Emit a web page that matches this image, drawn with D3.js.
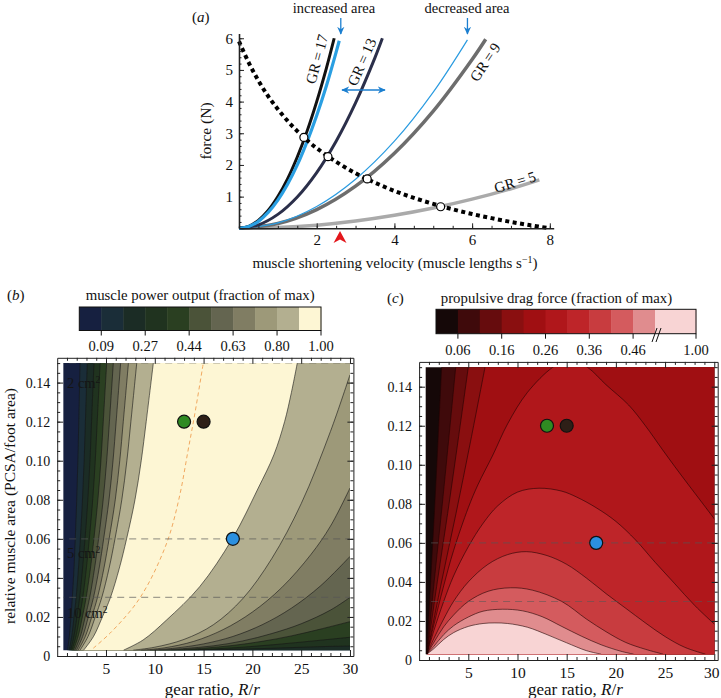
<!DOCTYPE html>
<html>
<head>
<meta charset="utf-8">
<script src="https://d3js.org/d3.v7.min.js"></script>
<style>
  body { margin: 0; background: #fff; }
  svg text { font-family: "Liberation Serif", "Times New Roman", serif; fill: #111; }
</style>
</head>
<body>
<script>
// ---------- panel (a): force-velocity and gear curves ----------
var hillV = [0,0.25,0.5,0.75,1,1.25,1.5,1.75,2,2.5,3,3.5,4,4.5,5,5.5,6,6.5,7,7.5,8];
var hillF = [5.9,5.23,4.66,4.17,3.76,3.39,3.07,2.78,2.53,2.10,1.74,1.44,1.18,0.96,0.77,0.60,0.45,0.32,0.20,0.097,0];
var gr17 = [[0,0],[0.25,0.06],[0.5,0.25],[0.75,0.56],[1,1],[1.25,1.56],[1.5,2.25],[1.75,3.06],[2,4],[2.25,5.06],[2.45,6.0]];
var blueHigh = [[0,0],[0.25,0.056],[0.5,0.22],[0.75,0.5],[1,0.89],[1.25,1.39],[1.5,2.0],[1.75,2.73],[2,3.56],[2.25,4.5],[2.5,5.56],[2.58,5.92]];
var gr13 = [[0,0],[0.5,0.11],[1,0.44],[1.5,0.99],[2,1.76],[2.5,2.75],[3,3.96],[3.5,5.39],[3.69,6.0]];
var blueLow = [[0,0],[1,0.17],[2,0.69],[3,1.55],[4,2.75],[5,4.3],[5.88,5.95]];
var gr9 = [[0,0],[1,0.15],[2,0.59],[3,1.33],[4,2.37],[5,3.7],[6,5.33],[6.35,5.97]];
var gr5 = [[0,0],[1,0.026],[2,0.10],[3,0.23],[4,0.41],[5,0.64],[6,0.92],[7,1.25],[7.73,1.53]];
var crossV = [1.67, 2.29, 3.30, 5.19];
var crossF = [2.87, 2.26, 1.56, 0.68];
var markV = 2.6;

// ---------- panel (b): muscle power contours ----------
var bColors = ["#162040","#1a2d38","#1b2c25","#20331f","#2a3f21","#4b5339","#646550","#807d63","#9d9979","#b3af90","#fdf6d4"];
var bTicks = ["0.09","0.27","0.44","0.63","0.80","1.00"];
var bLeftY = [0.003,0.01,0.02,0.03,0.045,0.06,0.08,0.10,0.12,0.15];
var bLeftX = [
  [1.06,1.24,1.41,1.55,1.72,1.85,2.00,2.12,2.21,2.34],
  [1.22,1.49,1.72,1.94,2.18,2.37,2.59,2.76,2.89,3.08],
  [1.38,1.71,2.02,2.30,2.60,2.85,3.14,3.36,3.52,3.77],
  [1.51,1.92,2.29,2.62,2.99,3.29,3.64,3.90,4.10,4.40],
  [1.66,2.14,2.58,2.97,3.41,3.76,4.17,4.48,4.72,5.07],
  [1.81,2.37,2.87,3.33,3.83,4.24,4.71,5.07,5.35,5.75],
  [1.98,2.61,3.19,3.72,4.30,4.76,5.31,5.72,6.04,6.50],
  [2.15,2.88,3.54,4.13,4.79,5.32,5.95,6.41,6.77,7.30],
  [2.34,3.16,3.90,4.57,5.32,5.92,6.62,7.14,7.55,8.15],
  [2.71,3.72,4.63,5.46,6.37,7.11,7.97,8.61,9.12,9.85]
];
var bRight = [
  null,
  null,
  [[14.5,0.003],[18,0.0034],[21,0.0038],[24,0.0043],[27,0.0048],[30,0.0051]],
  [[13,0.003],[16,0.0036],[19,0.0045],[22,0.0057],[25,0.0071],[28,0.0086],[30,0.0096]],
  [[11.7,0.003],[15,0.0040],[18,0.0054],[21,0.0075],[24,0.0103],[27,0.0138],[30,0.0176]],
  [[10.5,0.003],[13,0.0038],[16,0.0052],[19,0.0077],[22,0.0115],[25,0.0165],[28,0.0235],[30,0.030]],
  [[9.5,0.003],[12,0.0040],[15,0.0062],[18,0.0100],[21,0.0160],[24,0.0245],[27,0.036],[30,0.051]],
  [[8.6,0.003],[11,0.0042],[14,0.0075],[17,0.0135],[20,0.0225],[23,0.0350],[26,0.052],[28,0.0665],[30,0.086]],
  [[7.8,0.003],[10,0.0045],[13,0.0085],[16,0.0160],[19,0.0293],[22,0.050],[25,0.078],[28,0.115],[30,0.144]],
  [[6.8,0.003],[8.8,0.0082],[11.2,0.0184],[14.6,0.0355],[17.94,0.06],[20.6,0.086],[22.2,0.103],[23.3,0.12],[24.0,0.135],[24.6,0.15]]
];
var bOptimum = [[3.7,0.004],[5.4,0.0116],[7.8,0.025],[9.17,0.0355],[10.5,0.049],[11.56,0.0628],[12.6,0.0833],[13.4,0.105],[14.1,0.124],[14.97,0.15]];

// ---------- panel (c): propulsive drag contours ----------
var cColors = ["#150808","#3f0a0b","#660c0d","#8a0f10","#a00f12","#b0171b","#be2529","#c83c3f","#d45b5e","#e08c8e","#f8d4d4"];
var cTicks = ["0.06","0.16","0.26","0.36","0.46","1.00"];
var cFanY = [0.003,0.04,0.075,0.112,0.15];
var cFanX = [
  [0.8,1.17,1.55,1.92,2.29],
  [0.8,1.53,2.26,2.99,3.72],
  [0.8,1.85,2.90,3.95,5.00],
  [0.8,2.28,3.75,5.23,6.70]
];
var cArches = [
  [[0.8,0.003],[1.5,0.018],[2.5,0.038],[3.5,0.056],[5,0.078],[6,0.090],[7.5,0.105],[9,0.121],[11,0.137],[13.6,0.150],[15.3,0.154],[17.1,0.150],[19,0.141],[21.3,0.1306],[23,0.120],[24.7,0.108],[26,0.099],[27.4,0.0896],[28.7,0.081],[30.2,0.071]],
  [[0.8,0.003],[1.5,0.015],[2.5,0.030],[3.5,0.043],[5,0.058],[6.5,0.070],[8,0.079],[10,0.086],[12.2,0.088],[14.5,0.0865],[16,0.0835],[18,0.078],[20,0.071],[22,0.0615],[24,0.050],[26,0.039],[28,0.028],[30.2,0.0175]],
  [[0.8,0.003],[1.5,0.011],[2.5,0.021],[3.5,0.030],[5,0.040],[7,0.049],[9,0.054],[10.9,0.0555],[13,0.0535],[15,0.049],[17,0.042],[19,0.034],[21,0.0265],[23,0.019],[25,0.012],[27,0.0065],[29.1,0.003]],
  [[0.8,0.003],[1.5,0.009],[2.5,0.017],[3.5,0.023],[5,0.030],[7,0.0352],[9.3,0.037],[11.5,0.0358],[14.5,0.030],[17,0.021],[19,0.0145],[21,0.009],[23,0.0055],[24.8,0.003]],
  [[0.8,0.003],[1.5,0.007],[2.5,0.013],[3.5,0.0175],[5,0.022],[6.5,0.025],[8.5,0.026],[10.5,0.0252],[12.5,0.0222],[14.5,0.0172],[16.5,0.0122],[18.5,0.0078],[20.5,0.0045],[21.8,0.003]],
  [[0.8,0.003],[1.5,0.0058],[2.5,0.0105],[3.5,0.014],[5,0.0172],[6.5,0.0187],[7.7,0.019],[9,0.0187],[11,0.0168],[13,0.013],[15,0.0088],[17,0.0048],[18.5,0.003]]
];

// species markers (gear ratio, relative area) shared by b and c
var dotGear = [13, 15, 18];
var dotArea = [0.12, 0.12, 0.06];
var dotColor = ["#2f8a22", "#2e1f17", "#2b90e0"];
var areaLines = [0.06, 0.03];
var areaLabels = ["2", "5", "10"];

var xMajor = [5,10,15,20,25,30];
var yMajor = [0,0.02,0.04,0.06,0.08,0.10,0.12,0.14];

var svg = d3.select("body").append("svg").attr("width", 721).attr("height", 698);
var defs = svg.append("defs");

defs.append("marker").attr("id", "arr")
  .attr("viewBox", "0 0 10 10").attr("refX", 9).attr("refY", 5)
  .attr("markerWidth", 8).attr("markerHeight", 8).attr("markerUnits", "userSpaceOnUse")
  .attr("orient", "auto-start-reverse")
  .append("path").attr("d", "M0,0.5 L10,5 L0,9.5 L3,5 Z").attr("fill", "#1b7fd0");

function styleAxis(g, size) {
  g.attr("font-family", "Liberation Serif, Times New Roman, serif").attr("font-size", size).attr("color", "#222");
  g.selectAll("text").style("fill", "#111");
}

// ================= panel (a) =================
(function () {
  var xa = d3.scaleLinear().domain([0, 8.1]).range([239, 553.7]);
  var ya = d3.scaleLinear().domain([0, 6.15]).range([228.3, 33.5]);
  var g = svg.append("g");
  var line = d3.line().x(function (d) { return xa(d[0]); }).y(function (d) { return ya(d[1]); })
    .curve(d3.curveCatmullRom.alpha(0.5));

  var curves = [
    { d: gr5, c: "#aaaaaa", w: 3.5 },
    { d: gr9, c: "#6d6d6d", w: 3.5 },
    { d: blueLow, c: "#2a9be0", w: 1.2 },
    { d: gr13, c: "#2b2f4a", w: 3 },
    { d: gr17, c: "#111111", w: 3 },
    { d: blueHigh, c: "#2a9fe2", w: 3.2 }
  ];
  curves.forEach(function (c) {
    g.append("path").attr("d", line(c.d)).attr("fill", "none")
      .attr("stroke", c.c).attr("stroke-width", c.w).attr("stroke-linecap", "butt");
  });

  var hill = hillV.map(function (v, i) { return [v, hillF[i]]; });
  g.append("path").attr("d", line(hill)).attr("fill", "none")
    .attr("stroke", "#000").attr("stroke-width", 4).attr("stroke-dasharray", "4,3.5");

  g.selectAll("circle.cross").data(crossV).enter().append("circle")
    .attr("cx", function (d) { return xa(d); })
    .attr("cy", function (d, i) { return ya(crossF[i]); })
    .attr("r", 4).attr("fill", "#fff").attr("stroke", "#000").attr("stroke-width", 1.2);

  // axes, ticks pointing inward
  var xAx = g.append("g").attr("transform", "translate(0," + ya(0) + ")")
    .call(d3.axisBottom(xa).tickValues([2,4,6,8]).tickSizeInner(-5).tickSizeOuter(0).tickPadding(6).tickFormat(d3.format("d")));
  styleAxis(xAx, 15);
  xAx.select(".domain").attr("stroke-width", 1.6);
  var xMin = g.append("g").attr("transform", "translate(0," + ya(0) + ")")
    .call(d3.axisBottom(xa).tickValues(d3.range(0.5, 8.1, 0.5)).tickSizeInner(-2.5).tickSizeOuter(0).tickFormat(""));
  xMin.select(".domain").remove(); styleAxis(xMin, 10);

  var yAx = g.append("g").attr("transform", "translate(" + xa(0) + ",0)")
    .call(d3.axisLeft(ya).tickValues([1,2,3,4,5,6]).tickSizeInner(-5).tickSizeOuter(0).tickPadding(6).tickFormat(d3.format("d")));
  styleAxis(yAx, 15);
  yAx.select(".domain").attr("stroke-width", 1.6);
  var yMin = g.append("g").attr("transform", "translate(" + xa(0) + ",0)")
    .call(d3.axisLeft(ya).tickValues(d3.range(0.2, 6.15, 0.2)).tickSizeInner(-2.5).tickSizeOuter(0).tickFormat(""));
  yMin.select(".domain").remove(); styleAxis(yMin, 10);

  // red marker under the axis
  var mx = xa(markV);
  g.append("path").attr("d", "M" + mx + ",231 L" + (mx + 6.5) + ",243 L" + mx + ",239.5 L" + (mx - 6.5) + ",243 Z")
    .attr("fill", "#e3161b");

  // curve labels
  var labs = [
    { t: "GR\u2009=\u200917", x: 316.7, y: 59, r: -75 },
    { t: "GR\u2009=\u200913", x: 361.7, y: 62, r: -66 },
    { t: "GR\u2009=\u20099", x: 485, y: 62, r: -56 },
    { t: "GR\u2009=\u20095", x: 515, y: 182, r: -17 }
  ];
  labs.forEach(function (l) {
    g.append("text").attr("transform", "translate(" + l.x + "," + l.y + ") rotate(" + l.r + ")")
      .attr("text-anchor", "middle").attr("dy", "0.35em").attr("font-size", 15).text(l.t);
  });

  g.append("text").attr("x", 334).attr("y", 13).attr("text-anchor", "middle").attr("font-size", 14.5).text("increased area");
  g.append("text").attr("x", 467).attr("y", 13).attr("text-anchor", "middle").attr("font-size", 14.5).text("decreased area");
  [xa(2.62), xa(5.88)].forEach(function (x) {
    g.append("line").attr("x1", x).attr("x2", x).attr("y1", 18).attr("y2", 34)
      .attr("stroke", "#1b7fd0").attr("stroke-width", 1.3).attr("marker-end", "url(#arr)");
  });
  g.append("line").attr("x1", 342).attr("x2", 385).attr("y1", 90).attr("y2", 90)
    .attr("stroke", "#1b7fd0").attr("stroke-width", 1.3)
    .attr("marker-start", "url(#arr)").attr("marker-end", "url(#arr)");

  var pa = g.append("text").attr("x", 192).attr("y", 22).attr("font-size", 15);
  pa.append("tspan").text("(");
  pa.append("tspan").attr("font-style", "italic").text("a");
  pa.append("tspan").text(")");

  g.append("text").attr("transform", "translate(211,131) rotate(-90)").attr("text-anchor", "middle")
    .attr("font-size", 15.5).text("force (N)");
  var xt = g.append("text").attr("x", 395).attr("y", 268).attr("text-anchor", "middle").attr("font-size", 15);
  xt.append("tspan").text("muscle shortening velocity (muscle lengths s");
  xt.append("tspan").attr("baseline-shift", "super").attr("font-size", 10).text("\u22121");
  xt.append("tspan").text(")");
})();

// ================= panels (b) and (c) =================
function drawPanel(cfg) {
  var g = svg.append("g");
  var xs = d3.scaleLinear().domain([0, 30.35]).range(cfg.xr);
  var ys = d3.scaleLinear().domain([0, 0.1527]).range(cfg.yr);
  var line = d3.line().x(function (d) { return xs(d[0]); }).y(function (d) { return ys(d[1]); })
    .curve(d3.curveCatmullRom.alpha(0.5));
  function pt(x, y) { return "L" + xs(x) + "," + ys(y); }

  var clipId = "clip" + cfg.id;
  defs.append("clipPath").attr("id", clipId).append("rect")
    .attr("x", xs(cfg.dataX[0])).attr("y", ys(0.15))
    .attr("width", xs(cfg.dataX[1]) - xs(cfg.dataX[0])).attr("height", ys(0.003) - ys(0.15));
  var plot = g.append("g").attr("clip-path", "url(#" + clipId + ")");

  plot.append("rect").attr("x", xs(0)).attr("y", ys(0.16)).attr("width", xs(31) - xs(0))
    .attr("height", ys(-0.01) - ys(0.16)).attr("fill", cfg.colors[0]);

  cfg.regions.forEach(function (r, k) {
    plot.append("path").attr("d", r(line, pt)).attr("fill", cfg.colors[k + 1]).attr("stroke", "none");
  });
  cfg.lines.forEach(function (ln) {
    plot.append("path").attr("d", line(ln)).attr("fill", "none")
      .attr("stroke", cfg.lineColor).attr("stroke-opacity", 0.75).attr("stroke-width", 0.8);
  });
  if (cfg.extra) cfg.extra(plot, line, xs, ys);

  areaLines.concat(cfg.topDash ? [0.15] : []).forEach(function (a) {
    plot.append("line").attr("x1", xs(0)).attr("x2", xs(31)).attr("y1", ys(a)).attr("y2", ys(a))
      .attr("stroke", "#555").attr("stroke-opacity", 0.55).attr("stroke-width", 1.1).attr("stroke-dasharray", "7,5");
  });

  g.selectAll("circle.sp").data(dotGear).enter().append("circle")
    .attr("cx", function (d) { return xs(d); })
    .attr("cy", function (d, i) { return ys(dotArea[i]); })
    .attr("r", 6.5).attr("fill", function (d, i) { return dotColor[i]; })
    .attr("stroke", "#111").attr("stroke-width", 1.2);

  // frame with inward ticks
  var yMinor = d3.range(1, 31).map(function (i) { return i * 0.005; });
  var xMinor = d3.range(1, 31).filter(function (d) { return d % 5; });
  var fmtY = function (d) { return d === 0 ? "0" : d3.format(".2f")(d); };
  var sides = [
    { mk: function () { return d3.axisBottom(xs); }, t: "translate(0," + ys(0) + ")", maj: xMajor, min: xMinor, f: d3.format("d"), fs: 15.5 },
    { mk: function () { return d3.axisTop(xs); }, t: "translate(0," + ys(0.1527) + ")", maj: xMajor, min: xMinor, f: "", fs: 15 },
    { mk: function () { return d3.axisLeft(ys); }, t: "translate(" + xs(0) + ",0)", maj: yMajor, min: yMinor, f: fmtY, fs: 14 },
    { mk: function () { return d3.axisRight(ys); }, t: "translate(" + xs(30.35) + ",0)", maj: yMajor, min: yMinor, f: "", fs: 14 }
  ];
  sides.forEach(function (s, si) {
    var ga = g.append("g").attr("transform", s.t)
      .call(s.mk().tickValues(s.maj).tickSizeInner(-6).tickSizeOuter(0).tickPadding(7).tickFormat(s.f));
    styleAxis(ga, s.fs);
    if (si === 0 && cfg.lastTickShift) {
      ga.selectAll(".tick text").filter(function (d) { return d === 30; }).attr("dx", cfg.lastTickShift);
    }
    var gm = g.append("g").attr("transform", s.t)
      .call(s.mk().tickValues(s.min).tickSizeInner(-3).tickSizeOuter(0).tickFormat(""));
    gm.select(".domain").remove();
    styleAxis(gm, 10);
  });

  var xt = g.append("text").attr("x", (cfg.xr[0] + cfg.xr[1]) / 2 + 7).attr("y", 695)
    .attr("text-anchor", "middle").attr("font-size", 17);
  xt.append("tspan").text("gear ratio, ");
  xt.append("tspan").attr("font-style", "italic").text("R");
  xt.append("tspan").text("/");
  xt.append("tspan").attr("font-style", "italic").text("r");

  // colour bar
  var cb = cfg.bar;
  var cbx = d3.scaleLinear().domain(cb.dom).range(cb.rng);
  d3.range(11).forEach(function (i) {
    g.append("rect").attr("x", cbx(i)).attr("y", cb.y).attr("width", cbx(i + 1) - cbx(i) + 0.5)
      .attr("height", cb.h).attr("fill", cfg.colors[i]);
  });
  g.append("rect").attr("x", cbx(0)).attr("y", cb.y).attr("width", cbx(11) - cbx(0))
    .attr("height", cb.h).attr("fill", "none").attr("stroke", "#111").attr("stroke-width", 1);
  cfg.ticks.forEach(function (t, j) {
    var x = cbx(1 + 2 * j);
    g.append("line").attr("x1", x).attr("x2", x).attr("y1", cb.y + cb.h).attr("y2", cb.y + cb.h + 5)
      .attr("stroke", "#111").attr("stroke-width", 1);
    g.append("text").attr("x", x).attr("y", cb.ly).attr("text-anchor", "middle").attr("font-size", 14.5).text(t);
  });
  g.append("text").attr("x", cbx(5.5)).attr("y", cb.ty).attr("text-anchor", "middle")
    .attr("font-size", 14.8).text(cfg.title);
  var pl = g.append("text").attr("x", cfg.letter[0]).attr("y", cfg.letter[1]).attr("font-size", 15);
  pl.append("tspan").text("(");
  pl.append("tspan").attr("font-style", "italic").text(cfg.id);
  pl.append("tspan").text(")");
  return { g: g, xs: xs, ys: ys, cbx: cbx };
}

// region builders for (b): power above level k lies between left and right contours
var bLeftPts = bLeftX.map(function (row) { return row.map(function (x, i) { return [x, bLeftY[i]]; }); });
var bRegions = bLeftPts.map(function (L, k) {
  return function (line, pt) {
    var R = bRight[k];
    var top = L[L.length - 1], d = line(L) + pt(top[0], 0.16);
    if (!R) return d + pt(31, 0.16) + pt(31, -0.01) + pt(L[0][0], -0.01) + "Z";
    var rEnd = R[R.length - 1];
    if (rEnd[1] >= 0.149) d += pt(rEnd[0], 0.16);
    else d += pt(31, 0.16) + pt(31, rEnd[1]);
    d += line(R.slice().reverse()).replace(/^M/, "L");
    return d + pt(R[0][0], -0.01) + pt(L[0][0], -0.01) + "Z";
  };
});

var pb = drawPanel({
  id: "b", xr: [57.2, 353.4], yr: [656, 357.8], dataX: [0.63, 30],
  colors: bColors, ticks: bTicks, lineColor: "#161616", topDash: true,
  regions: bRegions,
  lines: bLeftPts.concat(bRight.filter(function (r) { return r; })),
  extra: function (plot, line) {
    plot.append("path").attr("d", line(bOptimum)).attr("fill", "none")
      .attr("stroke", "#f0a860").attr("stroke-width", 1).attr("stroke-dasharray", "4,3");
  },
  bar: { dom: [0, 11], rng: [79.3, 321], y: 307, h: 23.5, ly: 351, ty: 300 },
  title: "muscle power output (fraction of max)",
  letter: [7, 300]
});

// area labels in (b)
[[pb.ys(0.15), 388], [pb.ys(0.06), 558], [pb.ys(0.03), 618]].forEach(function (p, i) {
  var t = pb.g.append("text").attr("x", 67).attr("y", p[1]).attr("font-size", 14.5).style("fill", "#151515");
  t.append("tspan").text(areaLabels[i] + " cm");
  t.append("tspan").attr("baseline-shift", "super").attr("font-size", 9.5).text("2");
});
pb.g.append("text").attr("transform", "translate(15,506) rotate(-90)").attr("text-anchor", "middle")
  .attr("font-size", 15.5).text("relative muscle area (PCSA/foot area)");

// region builders for (c): drag above level k lies right of fan lines, then under arches
var cFanPts = cFanX.map(function (row) { return row.map(function (x, i) { return [x, cFanY[i]]; }); });
var cRegions = cFanPts.map(function (L) {
  return function (line, pt) {
    var top = L[L.length - 1];
    return line(L) + pt(top[0], 0.16) + pt(31, 0.16) + pt(31, -0.01) + pt(L[0][0], -0.01) + "Z";
  };
}).concat(cArches.map(function (U) {
  return function (line, pt) {
    var e = U[U.length - 1], d = line(U);
    if (e[0] >= 29.9) d += pt(31, e[1]) + pt(31, -0.01);
    else d += pt(e[0], -0.01);
    return d + pt(U[0][0], -0.01) + "Z";
  };
}));

var pc = drawPanel({
  id: "c", xr: [419.1, 717.7], yr: [660, 361.9], dataX: [0.67, 30],
  colors: cColors, ticks: cTicks, lineColor: "#220404", topDash: false,
  regions: cRegions,
  lines: cFanPts.concat(cArches),
  lastTickShift: -3,
  bar: { dom: [0, 10, 11], rng: [436, 655, 696], y: 309.3, h: 24.4, ly: 355, ty: 303 },
  title: "propulsive drag force (fraction of max)",
  letter: [387, 303]
});
// axis break on the (c) colour bar
[0, 4].forEach(function (o) {
  var x = pc.cbx(10) + o;
  pc.g.append("line").attr("x1", x - 3).attr("y1", 342).attr("x2", x + 2).attr("y2", 328)
    .attr("stroke", "#111").attr("stroke-width", 1);
});
</script>
</body>
</html>
